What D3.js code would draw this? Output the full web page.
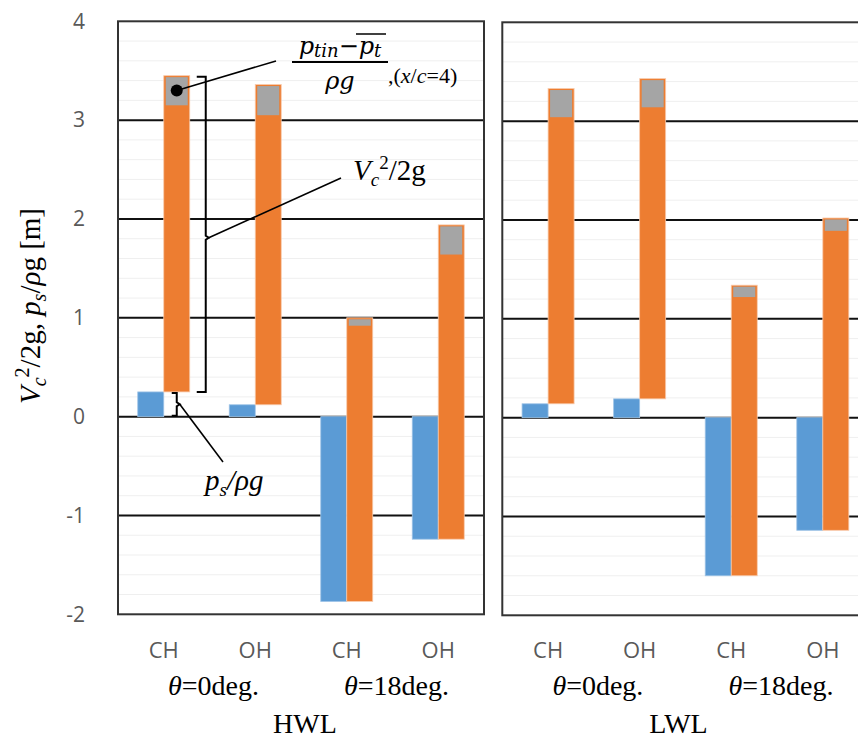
<!DOCTYPE html>
<html>
<head>
<meta charset="utf-8">
<script src="https://cdn.jsdelivr.net/npm/d3@7"></script>
<style>
body { margin: 0; background: #fff; }
svg { display: block; }
</style>
</head>
<body>
<svg></svg>
<script>
var categories = ["CH", "OH", "CH", "OH"];
var angleLabels = ["0deg.", "18deg."];
var panelNames = ["HWL", "LWL"];
var yTicks = [-2, -1, 0, 1, 2, 3, 4];

// p_s/rho g (blue), V_c^2/2g (orange), (p_tin - p_t)/rho g (gray)
var psHWL = [0.25, 0.12, -1.87, -1.24];
var vcHWL = [2.90, 2.93, 2.79, 2.88];
var ptHWL = [0.30, 0.31, 0.08, 0.30];

var psLWL = [0.14, 0.19, -1.60, -1.14];
var vcLWL = [2.90, 2.95, 2.82, 3.03];
var ptLWL = [0.29, 0.29, 0.12, 0.13];

var width = 858, height = 740;
var svg = d3.select("svg").attr("width", width).attr("height", height);

var serif = "'Liberation Serif', 'Times New Roman', serif";
var sans = "'Open Sans', sans-serif";

var plotTop = 21.3, plotBottom = 614.3;
var y = d3.scaleLinear().domain([-2, 4]).range([plotBottom, plotTop]);

var panels = [
  {name: panelNames[0], ps: psHWL, vc: vcHWL, pt: ptHWL, x0: 118, x1: 484, dy: 0, labelDx: 4},
  {name: panelNames[1], ps: psLWL, vc: vcLWL, pt: ptLWL, x0: 502.3, x1: 868.6, dy: 1, labelDx: -7}
];

var blue = "#5b9bd5", orange = "#ed7d31", gray = "#a5a5a5";

panels.forEach(function(p, pi){
  var g = svg.append("g").attr("transform", "translate(0," + p.dy + ")");

  var x = d3.scaleBand().domain(d3.range(categories.length)).range([p.x0, p.x1]);
  var xs = d3.scaleBand().domain(["ps", "vc"]).range([0, x.bandwidth()]).paddingOuter(0.76);
  p.x = x; p.xs = xs;

  // minor grid
  g.selectAll(".minor")
    .data(d3.range(-2, 4.001, 0.2))
    .enter().append("line")
    .attr("x1", p.x0).attr("x2", p.x1)
    .attr("y1", function(d){ return y(d); })
    .attr("y2", function(d){ return y(d); })
    .attr("stroke", "#efefef").attr("stroke-width", 1);

  // major grid
  g.selectAll(".major")
    .data(yTicks.slice(1, -1))
    .enter().append("line")
    .attr("x1", p.x0).attr("x2", p.x1)
    .attr("y1", function(d){ return y(d); })
    .attr("y2", function(d){ return y(d); })
    .attr("stroke", "#111").attr("stroke-width", 2);

  var rows = p.ps.map(function(d, i){
    return {i: i, ps: d, vc: p.vc[i], pt: p.pt[i]};
  });

  // blue
  g.selectAll(".ps")
    .data(rows)
    .enter().append("rect")
    .attr("x", function(d){ return x(d.i) + xs("ps"); })
    .attr("width", xs.bandwidth())
    .attr("y", function(d){ return y(Math.max(0, d.ps)); })
    .attr("height", function(d){ return Math.abs(y(d.ps) - y(0)); })
    .attr("fill", blue).attr("stroke", "#9dc3e6").attr("stroke-width", 0.8);

  // orange
  g.selectAll(".vc")
    .data(rows)
    .enter().append("rect")
    .attr("x", function(d){ return x(d.i) + xs("vc"); })
    .attr("width", xs.bandwidth())
    .attr("y", function(d){ return y(d.ps + d.vc + d.pt); })
    .attr("height", function(d){ return y(d.ps) - y(d.ps + d.vc + d.pt); })
    .attr("fill", orange).attr("stroke", "#f8cbad").attr("stroke-width", 0.8);

  // gray
  g.selectAll(".pt")
    .data(rows)
    .enter().append("rect")
    .attr("x", function(d){ return x(d.i) + xs("vc") + 2; })
    .attr("width", xs.bandwidth() - 4)
    .attr("y", function(d){ return y(d.ps + d.vc + d.pt) + 1.5; })
    .attr("height", function(d){ return y(d.ps + d.vc) - y(d.ps + d.vc + d.pt) - 1.5; })
    .attr("fill", gray);

  // border
  g.append("rect")
    .attr("x", p.x0).attr("y", plotTop)
    .attr("width", p.x1 - p.x0).attr("height", plotBottom - plotTop)
    .attr("fill", "none").attr("stroke", "#333").attr("stroke-width", 2);

  // category labels
  g.selectAll(".cat")
    .data(categories)
    .enter().append("text")
    .attr("x", function(d, i){ return x(i) + x.bandwidth() / 2; })
    .attr("y", 658 - p.dy)
    .attr("text-anchor", "middle")
    .attr("font-family", sans).attr("font-size", 22)
    .attr("fill", "#595959")
    .text(function(d){ return d; });

  // angle labels
  var ang = g.selectAll(".ang")
    .data(angleLabels)
    .enter().append("text")
    .attr("x", function(d, i){ return x(i * 2) + x.bandwidth() + 4; })
    .attr("y", 695 - p.dy)
    .attr("text-anchor", "middle")
    .attr("font-family", serif).attr("font-size", 28)
    .attr("fill", "#000");
  ang.append("tspan").attr("font-style", "italic").text("θ");
  ang.append("tspan").text(function(d){ return "=" + d; });

  g.append("text")
    .attr("x", (p.x0 + p.x1) / 2 + p.labelDx)
    .attr("y", 733 - p.dy)
    .attr("text-anchor", "middle")
    .attr("font-family", serif).attr("font-size", 28)
    .text(p.name);
});

// y axis labels
var yAxis = d3.axisLeft(y).tickValues(yTicks).tickSize(0).tickPadding(33)
  .tickFormat(function(d){ return String(d); });
var ya = svg.append("g")
  .attr("transform", "translate(118,0)")
  .call(yAxis);
ya.select(".domain").remove();
ya.selectAll("text")
  .attr("font-family", sans).attr("font-size", 21).attr("fill", "#595959");

// y title
var yt = svg.append("text")
  .attr("transform", "translate(40,306) rotate(-90)")
  .attr("text-anchor", "middle")
  .attr("font-family", serif).attr("font-size", 29);
yt.append("tspan").attr("font-style", "italic").text("V");
yt.append("tspan").attr("font-style", "italic").attr("font-size", 20).attr("dy", 6).text("c");
yt.append("tspan").attr("font-size", 20).attr("dy", -17).text("2");
yt.append("tspan").attr("dy", 11).text("/2g, ");
yt.append("tspan").attr("font-style", "italic").text("p");
yt.append("tspan").attr("font-style", "italic").attr("font-size", 20).attr("dy", 6).text("s");
yt.append("tspan").attr("dy", -6).text("/");
yt.append("tspan").attr("font-style", "italic").text("ρ");
yt.append("tspan").text("g  [m]");

// annotations (first HWL bar)
var P = panels[0];
var bx = P.x(0) + P.xs("vc");
var bw = P.xs.bandwidth();
var d0 = {ps: P.ps[0], vc: P.vc[0], pt: P.pt[0]};
var yTop = y(d0.ps + d0.vc + d0.pt), yBot = y(d0.ps);
var yMid = (yTop + yBot) / 2 + 4;

var ann = svg.append("g").attr("fill", "none").attr("stroke", "#000");

// big bracket
var bxr = bx + bw + 7;
ann.append("path")
  .attr("stroke-width", 2)
  .attr("d", d3.line()([[bxr, yTop + 1], [bxr + 9, yTop + 1], [bxr + 9, yMid - 2], [bxr + 12, yMid], [bxr + 9, yMid + 2], [bxr + 9, yBot], [bxr, yBot]]));
ann.append("line").attr("stroke-width", 1.6)
  .attr("x1", bxr + 12).attr("y1", yMid).attr("x2", 341).attr("y2", 178);

// small bracket for ps
var sx = bx + 8;
var s0 = y(d0.ps) + 1, s1 = y(0) - 1, sm = (s0 + s1) / 2;
ann.append("path")
  .attr("stroke-width", 2)
  .attr("d", d3.line()([[sx, s0], [sx + 5, s0], [sx + 5, sm - 2], [sx + 8, sm], [sx + 5, sm + 2], [sx + 5, s1], [sx, s1]]));
ann.append("line").attr("stroke-width", 1.6)
  .attr("x1", sx + 8).attr("y1", sm).attr("x2", 223).attr("y2", 462);

// dot on the gray segment
var dotY = (y(d0.ps + d0.vc) + yTop) / 2;
ann.append("line").attr("stroke-width", 1.6)
  .attr("x1", bx + bw / 2).attr("y1", dotY).attr("x2", 276).attr("y2", 61);
svg.append("circle")
  .attr("cx", bx + bw / 2).attr("cy", dotY).attr("r", 6).attr("fill", "#000");

// fraction label
var math = "'DejaVu Serif', serif";
var num = svg.append("text")
  .attr("x", 340).attr("y", 54)
  .attr("text-anchor", "middle")
  .attr("font-family", math).attr("font-style", "italic").attr("font-size", 24);
num.append("tspan").text("p");
num.append("tspan").attr("font-size", 18).attr("dy", 3).text("tin");
num.append("tspan").attr("dy", -3).attr("font-style", "normal").text("−");
num.append("tspan").text("p");
num.append("tspan").attr("font-size", 18).attr("dy", 3).text("t");
svg.append("line")
  .attr("x1", 292).attr("x2", 388).attr("y1", 62).attr("y2", 62)
  .attr("stroke", "#000").attr("stroke-width", 2);
svg.append("line")
  .attr("x1", 356).attr("x2", 386).attr("y1", 34).attr("y2", 34)
  .attr("stroke", "#000").attr("stroke-width", 1.5);
svg.append("text")
  .attr("x", 340).attr("y", 89)
  .attr("text-anchor", "middle")
  .attr("font-family", math).attr("font-style", "italic").attr("font-size", 24)
  .text("ρg");
var xc = svg.append("text")
  .attr("x", 388).attr("y", 83)
  .attr("font-family", serif).attr("font-size", 22);
xc.append("tspan").text(",(");
xc.append("tspan").attr("font-style", "italic").text("x");
xc.append("tspan").text("/");
xc.append("tspan").attr("font-style", "italic").text("c");
xc.append("tspan").text("=4)");

// Vc label
var vl = svg.append("text")
  .attr("x", 353).attr("y", 180)
  .attr("font-family", serif).attr("font-size", 29);
vl.append("tspan").attr("font-style", "italic").text("V");
vl.append("tspan").attr("font-style", "italic").attr("font-size", 19).attr("dy", 6).text("c");
vl.append("tspan").attr("font-size", 19).attr("dy", -17).text("2");
vl.append("tspan").attr("dy", 11).text("/2g");

// ps label
var pl = svg.append("text")
  .attr("x", 205).attr("y", 490)
  .attr("font-family", serif).attr("font-size", 29).attr("font-style", "italic");
pl.append("tspan").text("p");
pl.append("tspan").attr("font-size", 19).attr("dy", 6).text("s");
pl.append("tspan").attr("dy", -6).text("/ρg");
</script>
</body>
</html>
